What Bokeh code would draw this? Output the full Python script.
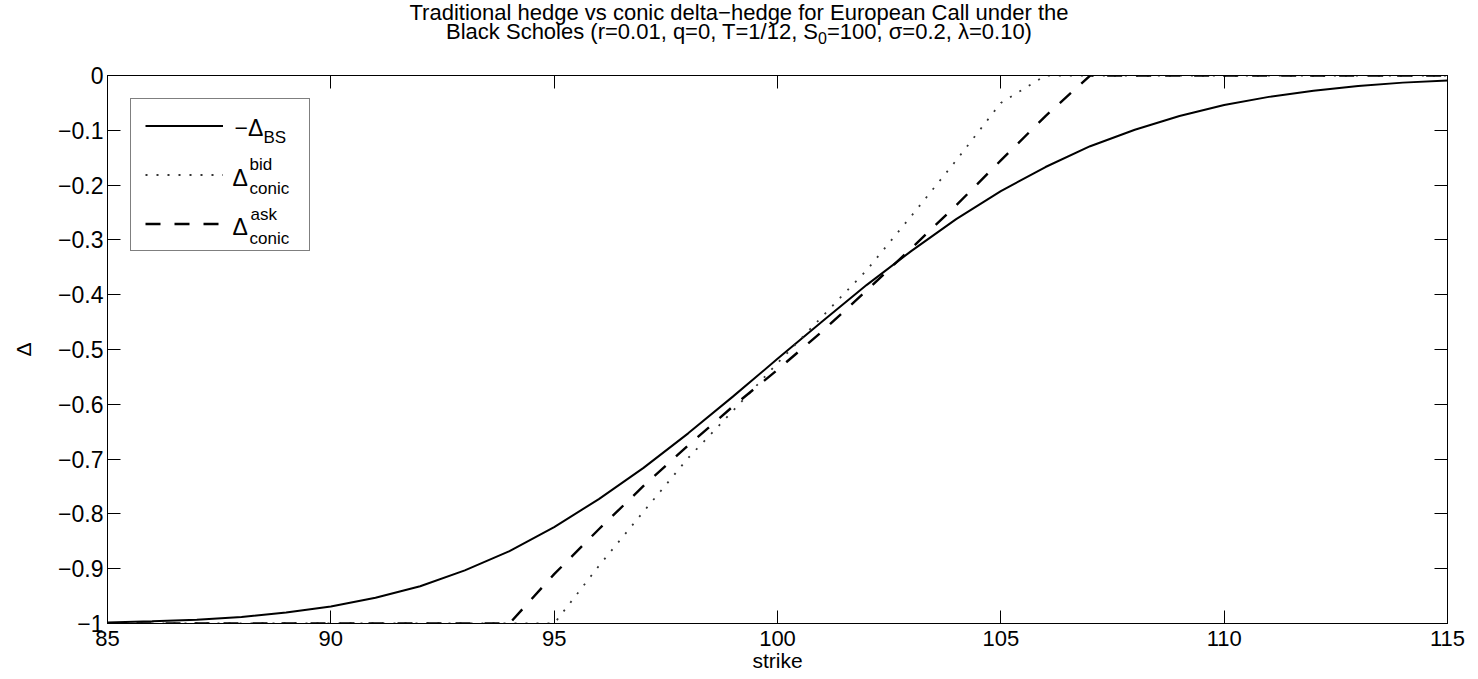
from bokeh.plotting import figure
from bokeh.models import (LinearAxis, Legend, LegendItem, FixedTicker, Div,
                          Range1d, CustomJSTickFormatter)
from bokeh.layouts import column
from bokeh.core.properties import value
from bokeh.embed import file_html
from bokeh.resources import INLINE

# ---- data ----
strike = [85, 86, 87, 88, 89, 90, 91, 92, 93, 94, 95, 96, 97, 98, 99, 100,
          101, 102, 103, 104, 105, 106, 107, 108, 109, 110, 111, 112, 113, 114, 115]
delta_bs = [-0.998, -0.996, -0.993, -0.988, -0.980, -0.969, -0.953, -0.932, -0.903, -0.868,
            -0.824, -0.773, -0.716, -0.653, -0.586, -0.517, -0.449, -0.382, -0.320, -0.262,
            -0.211, -0.167, -0.129, -0.099, -0.074, -0.054, -0.039, -0.028, -0.019, -0.013, -0.009]
delta_bid = [-1.0, -1.0, -1.0, -1.0, -1.0, -1.0, -1.0, -1.0, -1.0, -1.0,
             -1.0, -0.895, -0.796, -0.698, -0.612, -0.525, -0.440, -0.355, -0.256, -0.155,
             -0.050, 0.0, 0.0, 0.0, 0.0, 0.0, 0.0, 0.0, 0.0, 0.0, 0.0]
delta_ask = [-1.0, -1.0, -1.0, -1.0, -1.0, -1.0, -1.0, -1.0, -1.0, -1.0,
             -0.910, -0.828, -0.749, -0.675, -0.604, -0.537, -0.467, -0.392, -0.315, -0.237,
             -0.155, -0.074, 0.0, 0.0, 0.0, 0.0, 0.0, 0.0, 0.0, 0.0, 0.0]
x_ticks = [85, 90, 95, 100, 105, 110, 115]
y_ticks = [0, -0.1, -0.2, -0.3, -0.4, -0.5, -0.6, -0.7, -0.8, -0.9, -1]
title_line1 = "Traditional hedge vs conic delta\u2212hedge for European Call under the"
title_line2_a = "Black Scholes (r=0.01, q=0, T=1/12, S"
title_line2_sub = "0"
title_line2_b = "=100, \u03c3=0.2, \u03bb=0.10)"
legend_main = ["\u2212\u0394", "\u0394", "\u0394"]
legend_sub = ["BS", "conic", "conic"]
legend_sup = ["bid", "ask"]

FONT = "Liberation Sans"
W, H = 1478, 679
TITLE_H = 50
X0, X1, Y0, Y1 = 85, 115, -1, 0
FL, FR, FT, FB = 107, 1447, 75, 623  # frame edges in page px

title_div = Div(
    text=(f"<div style=\"width:{W}px; text-align:center; font-family:'{FONT}'; "
          f"font-size:22px; line-height:19px; padding-top:3px; color:black; white-space:nowrap\">"
          f"{title_line1}<br>{title_line2_a}"
          f"<span style=\"font-size:16px; position:relative; top:5px\">{title_line2_sub}</span>"
          f"{title_line2_b}</div>"),
    width=W, height=TITLE_H, margin=(0, 0, 0, 0))

p = figure(width=W, height=H - TITLE_H, output_backend="svg", toolbar_location=None,
           x_range=Range1d(X0, X1), y_range=Range1d(Y0, Y1),
           min_border_left=FL, min_border_right=W - FR, min_border_top=FT - TITLE_H,
           min_border_bottom=H - FB, margin=(0, 0, 0, 0))
p.xgrid.visible = False
p.ygrid.visible = False
p.outline_line_color = "black"
p.outline_line_width = 1
p.background_fill_color = "white"
p.border_fill_color = "white"

def style_axis(ax, ticks, show_labels):
    ax.ticker = FixedTicker(ticks=ticks)
    ax.minor_tick_line_color = None
    ax.major_tick_in = 13
    ax.major_tick_out = 0
    ax.major_tick_line_color = "black"
    ax.major_tick_line_width = 1
    ax.axis_line_color = "black"
    ax.axis_line_width = 1
    ax.major_label_text_font = FONT
    ax.major_label_text_color = "black"
    if show_labels:
        ax.major_label_text_font_size = "22px"
    else:
        ax.formatter = CustomJSTickFormatter(code="return ''")
        ax.major_label_text_font_size = "1px"
        ax.major_label_standoff = 0

xa = p.xaxis[0]
style_axis(xa, x_ticks, True)
xa.major_label_standoff = 7
xa.axis_label = "strike"
xa.axis_label_text_font = FONT
xa.axis_label_text_font_size = "21px"
xa.axis_label_text_font_style = "normal"
xa.axis_label_text_color = "black"
xa.axis_label_standoff = 0

ya = p.yaxis[0]
style_axis(ya, y_ticks, True)
ya.major_label_text_font_size = "23px"
ya.major_label_standoff = 4
ya.axis_label = "\u0394"
ya.axis_label_text_font = FONT
ya.axis_label_text_font_size = "21px"
ya.axis_label_text_font_style = "normal"
ya.axis_label_text_color = "black"
ya.axis_label_standoff = 20

top = LinearAxis()
style_axis(top, x_ticks, False)
p.add_layout(top, "above")
right = LinearAxis()
style_axis(right, y_ticks, False)
p.add_layout(right, "right")

r_bs = p.line(strike, delta_bs, line_color="black", line_width=2)
r_bid = p.line(strike, delta_bid, line_color="#333333", line_width=1.8, line_dash="2 9")
r_ask = p.line(strike, delta_ask, line_color="black", line_width=2.4, line_dash="15 14")

legend = Legend(items=[LegendItem(label=" ", renderers=[r_bs]),
                       LegendItem(label=" ", renderers=[r_bid]),
                       LegendItem(label=" ", renderers=[r_ask])],
                location=(23, 372), padding=14, spacing=24,
                glyph_width=78, glyph_height=25, label_height=25, label_width=62,
                label_standoff=10, border_line_color="black", border_line_width=1.5,
                background_fill_alpha=0.0, label_text_font_size="12px")
p.add_layout(legend, "center")

# page px -> data coords (for legend text placement)
def dx(cx):
    return X0 + (cx - FL) / (FR - FL) * (X1 - X0)

def dy(cy):
    return Y1 - (cy - FT) / (FB - FT) * (Y1 - Y0)

main_pos = [(234, 127), (232, 177), (232, 226)]
sub_pos = [(263, 137), (249, 188), (249, 238)]
sup_pos = [(249, 164), (250, 214)]

p.text(x=[dx(c[0]) for c in main_pos], y=[dy(c[1]) for c in main_pos], text=legend_main,
       text_font=value(FONT), text_font_size=value("23px"), text_color="black",
       text_align="left", text_baseline="alphabetic")
p.text(x=[dx(c[0]) for c in sub_pos], y=[dy(c[1]) for c in sub_pos], text=legend_sub,
       text_font=value(FONT), text_font_size=value("17px"), text_color="black",
       text_align="left", text_baseline="alphabetic")
p.text(x=[dx(c[0]) for c in sup_pos], y=[dy(c[1]) for c in sup_pos], text=legend_sup,
       text_font=value(FONT), text_font_size=value("17px"), text_color="black",
       text_align="left", text_baseline="alphabetic")

layout = column(title_div, p, spacing=0, margin=(0, 0, 0, 0))
open("out.html", "w").write(file_html(layout, INLINE))
